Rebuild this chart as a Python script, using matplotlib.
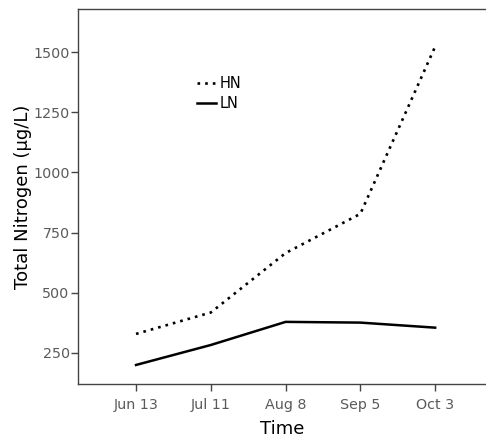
import matplotlib.pyplot as plt

# values
dates = ['Jun 13', 'Jul 11', 'Aug 8', 'Sep 5', 'Oct 3']
hn = [329, 418, 665, 828, 1523]
ln = [200, 283, 379, 376, 355]
y_ticks = [250, 500, 750, 1000, 1250, 1500]

plt.rcParams['font.family'] = ['DejaVu Sans']

fig = plt.figure(figsize=(4.86, 4.41), dpi=100)
ax = fig.add_axes([0.1605, 0.1293, 0.8395, 0.8503])

x = list(range(len(dates)))
ax.plot(x, hn, color='black', linewidth=1.9, linestyle=(0, (1, 1.9)),
        dash_capstyle='butt', label='HN')
ax.plot(x, ln, color='black', linewidth=1.8, label='LN')

ax.set_xlim(-0.776, 4.68)
ax.set_ylim(121, 1679)
ax.set_xticks(x)
ax.set_xticklabels(dates)
ax.set_yticks(y_ticks)

for side in ['left', 'bottom', 'top']:
    ax.spines[side].set_color('#444444')
    ax.spines[side].set_linewidth(1.0)
ax.spines['right'].set_visible(False)

ax.tick_params(axis='both', colors='#444444', labelcolor='#5a5a5a',
               labelsize=10.3, length=5, width=1.0, direction='out')
ax.tick_params(axis='x', pad=5)
ax.tick_params(axis='y', pad=1)

ax.set_xlabel('Time', fontsize=13, labelpad=6)
ax.set_ylabel('Total Nitrogen (µg/L)', fontsize=13, labelpad=1)

# legend sits inside the plot, no frame
leg = ax.legend(loc='upper left', bbox_to_anchor=(0.275, 0.84), frameon=False,
                fontsize=10.5, handlelength=1.3, handletextpad=0.2,
                labelspacing=0.3, borderpad=0)

fig.savefig('out.png', dpi=100)
